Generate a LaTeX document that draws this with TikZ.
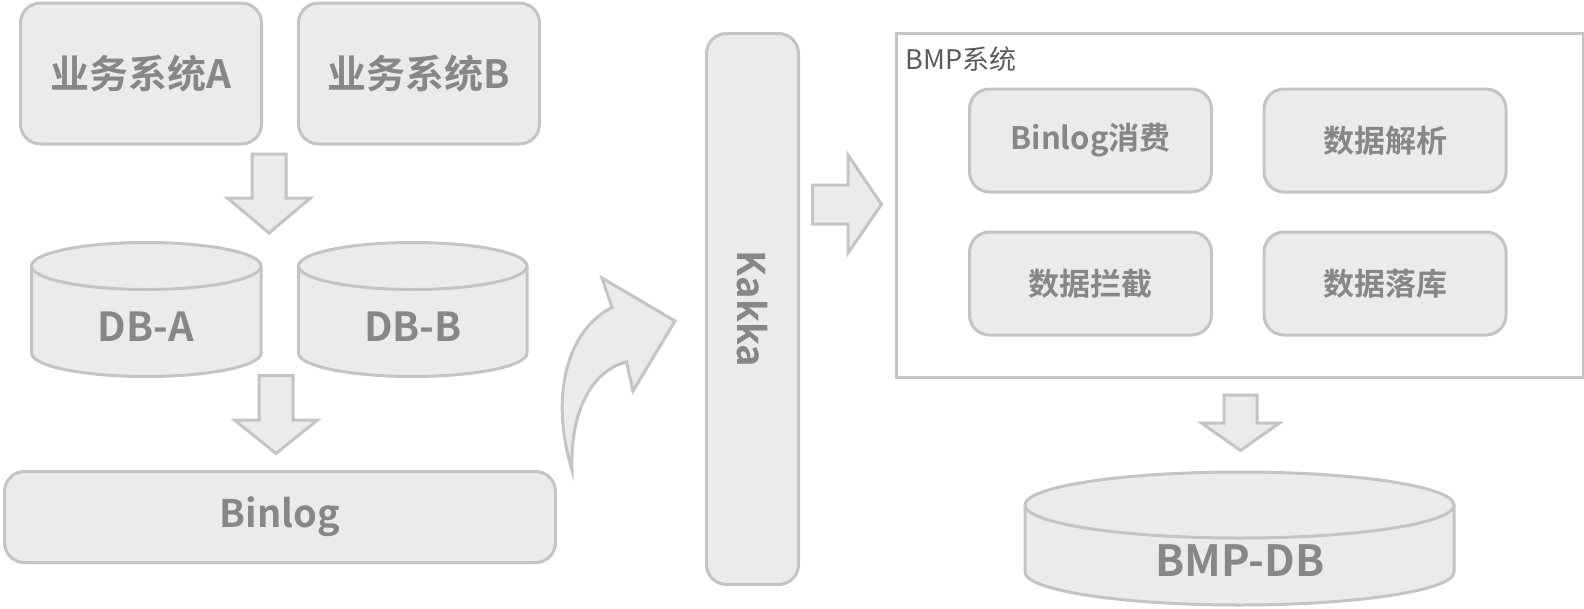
\documentclass[tikz,border=0pt]{standalone}
\usepackage{fontspec}
\setmainfont{Noto Sans CJK SC}[BoldFont={Noto Sans CJK SC Bold}]

\definecolor{boxfill}{HTML}{EBEBEB}
\definecolor{boxline}{HTML}{C4C4C4}
\definecolor{textgray}{HTML}{878787}
\definecolor{labelgray}{HTML}{5A5A5A}

% block arrow pointing down: centre x, top, neck, tip, shaft half, head half
\newcommand{\blockdown}[6]{%
  \filldraw[bigarrow] (#1-#5,#2) -- (#1+#5,#2) -- (#1+#5,#3) -- (#1+#6,#3) -- (#1,#4) -- (#1-#6,#3) -- (#1-#5,#3) -- cycle;}
% database disk: left, right, top centre, bottom centre, y radius
\newcommand{\dbdisk}[5]{%
  \filldraw[disk] (#1,#3) -- (#1,#4) arc[start angle=180, end angle=0, x radius={(#2-#1)/2}, y radius=#5] -- (#2,#3);
  \filldraw[disk] ({(#1+#2)/2},#3) ellipse[x radius={(#2-#1)/2}, y radius=#5];}

\tikzset{
  box/.style={draw=boxline, fill=boxfill, line width=3pt, rounded corners=20pt, text=textgray, inner sep=0pt, font=\bfseries\fontsize{38}{42}\selectfont},
  smallbox/.style={box, minimum width=242pt, minimum height=103pt, font=\bfseries\fontsize{31}{35}\selectfont},
  bigarrow/.style={draw=boxline, fill=boxfill, line width=3pt, line join=miter},
  disk/.style={draw=boxline, fill=boxfill, line width=3pt},
  disktext/.style={text=textgray, inner sep=0pt, font=\bfseries\fontsize{40}{44}\selectfont}
}

\begin{document}
\begin{tikzpicture}[x=1pt, y=-1pt]
    \useasboundingbox (0,0) rectangle (1584,608);
    % source systems
    \node[box, minimum width=241pt, minimum height=141pt, font=\bfseries\fontsize{39}{43}\selectfont] (sysA) at (141,73.5) {业务系统A};
    \node[box, minimum width=241pt, minimum height=141pt, font=\bfseries\fontsize{39}{43}\selectfont] (sysB) at (419,73.5) {业务系统B};
    \blockdown{269}{154}{198}{233}{17}{41.5}
    % databases
    \dbdisk{31.5}{261}{266}{353}{23.5}
    \dbdisk{298.5}{527}{266}{353}{23.5}
    \node[disktext] (dbA) at (146,327) {DB-A};
    \node[disktext] (dbB) at (413,327) {DB-B};
    \blockdown{276}{375.5}{420}{453.5}{17}{41.5}
    \node[box, minimum width=551pt, minimum height=91pt] (binlog) at (280,517) {Binlog};
    % curved arrow to kafka
    \filldraw[bigarrow] (572,470) .. controls (549.5,396) and (567,330) .. (612,307.5)
        -- (602,278) -- (675,321) -- (633,391) -- (626.5,362)
        .. controls (592,370.5) and (570,411) .. (572,470) -- cycle;
    \node[box, rotate=-90, minimum width=551pt, minimum height=92pt] (kafka) at (752.5,309) {Kakka};
    \filldraw[bigarrow] (812.5,185) -- (848,185) -- (848,155) -- (881.5,204.5) -- (848,253) -- (848,224) -- (812.5,224) -- cycle;
    % BMP system
    \node[draw=boxline, line width=3pt, minimum width=687pt, minimum height=344pt, inner sep=0pt] (bmp) at (1240,205.5) {};
    \node[anchor=base west, inner sep=0pt, text=labelgray, font=\fontsize{27}{31}\selectfont] (bmplabel) at (905.5,69) {BMP系统};
    \node[smallbox] (consume) at (1090.5,140.5) {Binlog消费};
    \node[smallbox] (parse) at (1385,140.5) {数据解析};
    \node[smallbox] (filter) at (1090.5,283.5) {数据拦截};
    \node[smallbox] (store) at (1385,283.5) {数据落库};
    \blockdown{1240.5}{395}{423}{450.5}{16.5}{39}
    \dbdisk{1025}{1454}{505}{572}{33}
    \node[disktext, font=\bfseries\fontsize{43}{47}\selectfont] (bmpdb) at (1240,561) {BMP-DB};
\end{tikzpicture}
\end{document}
